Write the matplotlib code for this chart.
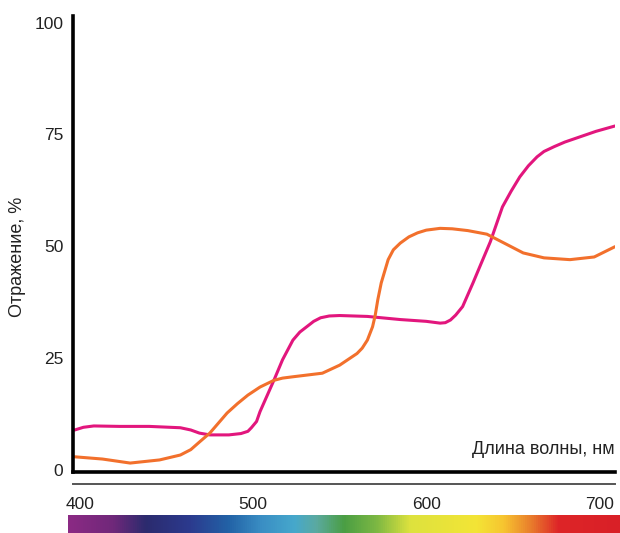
import numpy as np
import matplotlib
matplotlib.use('Agg')
import matplotlib.pyplot as plt
from matplotlib.colors import LinearSegmentedColormap

plt.rcParams['font.family'] = ['Liberation Sans', 'DejaVu Sans']

# Reflectance curves (wavelength nm, reflectance %)
wl_pink = [397, 402, 408, 423, 440, 458, 464, 469, 475, 486, 493, 497, 499, 502,
           504, 508, 512, 517, 523, 527, 531, 535, 539, 544, 550, 566, 585, 600,
           608, 611, 614, 617, 621, 627, 631, 637, 644, 649, 654, 659, 664, 668,
           674, 680, 689, 698, 709]
refl_pink = [8.9, 9.5, 9.8, 9.7, 9.7, 9.4, 8.9, 8.2, 7.8, 7.8, 8.1, 8.6, 9.4, 10.8,
             13, 16.5, 20, 24.6, 29, 30.8, 32, 33.2, 34, 34.4, 34.5, 34.3, 33.6,
             33.2, 32.8, 32.9, 33.5, 34.6, 36.5, 41.8, 45.5, 51, 58.8, 62.3, 65.5,
             68, 70, 71.2, 72.3, 73.3, 74.5, 75.7, 76.9]

wl_orange = [397, 413, 429, 446, 458, 464, 469, 475, 485, 491, 497, 504, 512, 517,
             523, 540, 550, 560, 563, 566, 567.5, 569, 570.5, 572, 574, 578, 581,
             585, 590, 595, 600, 608, 615, 624, 635, 647, 656, 668, 683, 697, 709]
refl_orange = [2.9, 2.4, 1.5, 2.2, 3.3, 4.5, 6.2, 8.2, 12.7, 14.8, 16.7, 18.5, 20,
               20.5, 20.8, 21.6, 23.4, 26, 27.2, 29, 30.5, 32, 34.5, 38, 41.8, 47,
               49.2, 50.7, 52.1, 53, 53.6, 54, 53.9, 53.5, 52.7, 50.3, 48.5, 47.4,
               47, 47.6, 49.9]

yticks = [0, 25, 50, 75, 100]
xticks = [400, 500, 600, 700]

# spectrum strip colours, left to right
spectrum = ['#8b2a84', '#70287a', '#2b2b6e', '#2c3a8e', '#2262a6', '#3a8ec4',
            '#46a8cc', '#5baaa0', '#4a9e44', '#7db843', '#dde23e', '#f3e536',
            '#f7c530', '#e97d2c', '#de2528', '#d92027']
spectrum_pos = [0.0, 0.08, 0.14, 0.22, 0.29, 0.35, 0.41, 0.45, 0.50, 0.56, 0.62,
                0.74, 0.79, 0.84, 0.89, 1.0]

fig = plt.figure(figsize=(6.2, 5.33), dpi=100)
ax = fig.add_axes([73/620, 61/533, 542/620, 456/533])

ax.plot(wl_pink, refl_pink, color='#e2167d', lw=2.2, solid_capstyle='round')
ax.plot(wl_orange, refl_orange, color='#f2702c', lw=2.2, solid_capstyle='round')

ax.set_xlim(396, 709)
ax.set_ylim(-0.5, 101.5)
for s in ['top', 'right']:
    ax.spines[s].set_visible(False)
ax.spines['left'].set_linewidth(2.6)
ax.spines['bottom'].set_linewidth(2.6)
ax.set_yticks(yticks)
ax.set_xticks(xticks)
ax.tick_params(axis='y', length=0, pad=7, labelsize=12.5, labelcolor='#222222')
ax.tick_params(axis='x', length=0, pad=18, labelsize=12.5, labelcolor='#222222')

# second thin line under the axis
ax.plot([0, 1], [-0.026, -0.026], transform=ax.transAxes, color='#555555',
        lw=1.4, clip_on=False)

ax.text(709, 4.6, 'Длина волны, нм', ha='right', va='center', fontsize=13,
        color='#222222')
fig.text(18/620, 1 - 257/533, 'Отражение, %', rotation=90, ha='center',
         va='center', fontsize=13, color='#222222')

# spectrum strip
cmap = LinearSegmentedColormap.from_list('spec', list(zip(spectrum_pos, spectrum)))
bar = fig.add_axes([68/620, 0, 552/620, 18/533])
bar.imshow(np.linspace(0, 1, 512)[None, :], aspect='auto', cmap=cmap)
bar.axis('off')

fig.savefig('out.png', dpi=100)
